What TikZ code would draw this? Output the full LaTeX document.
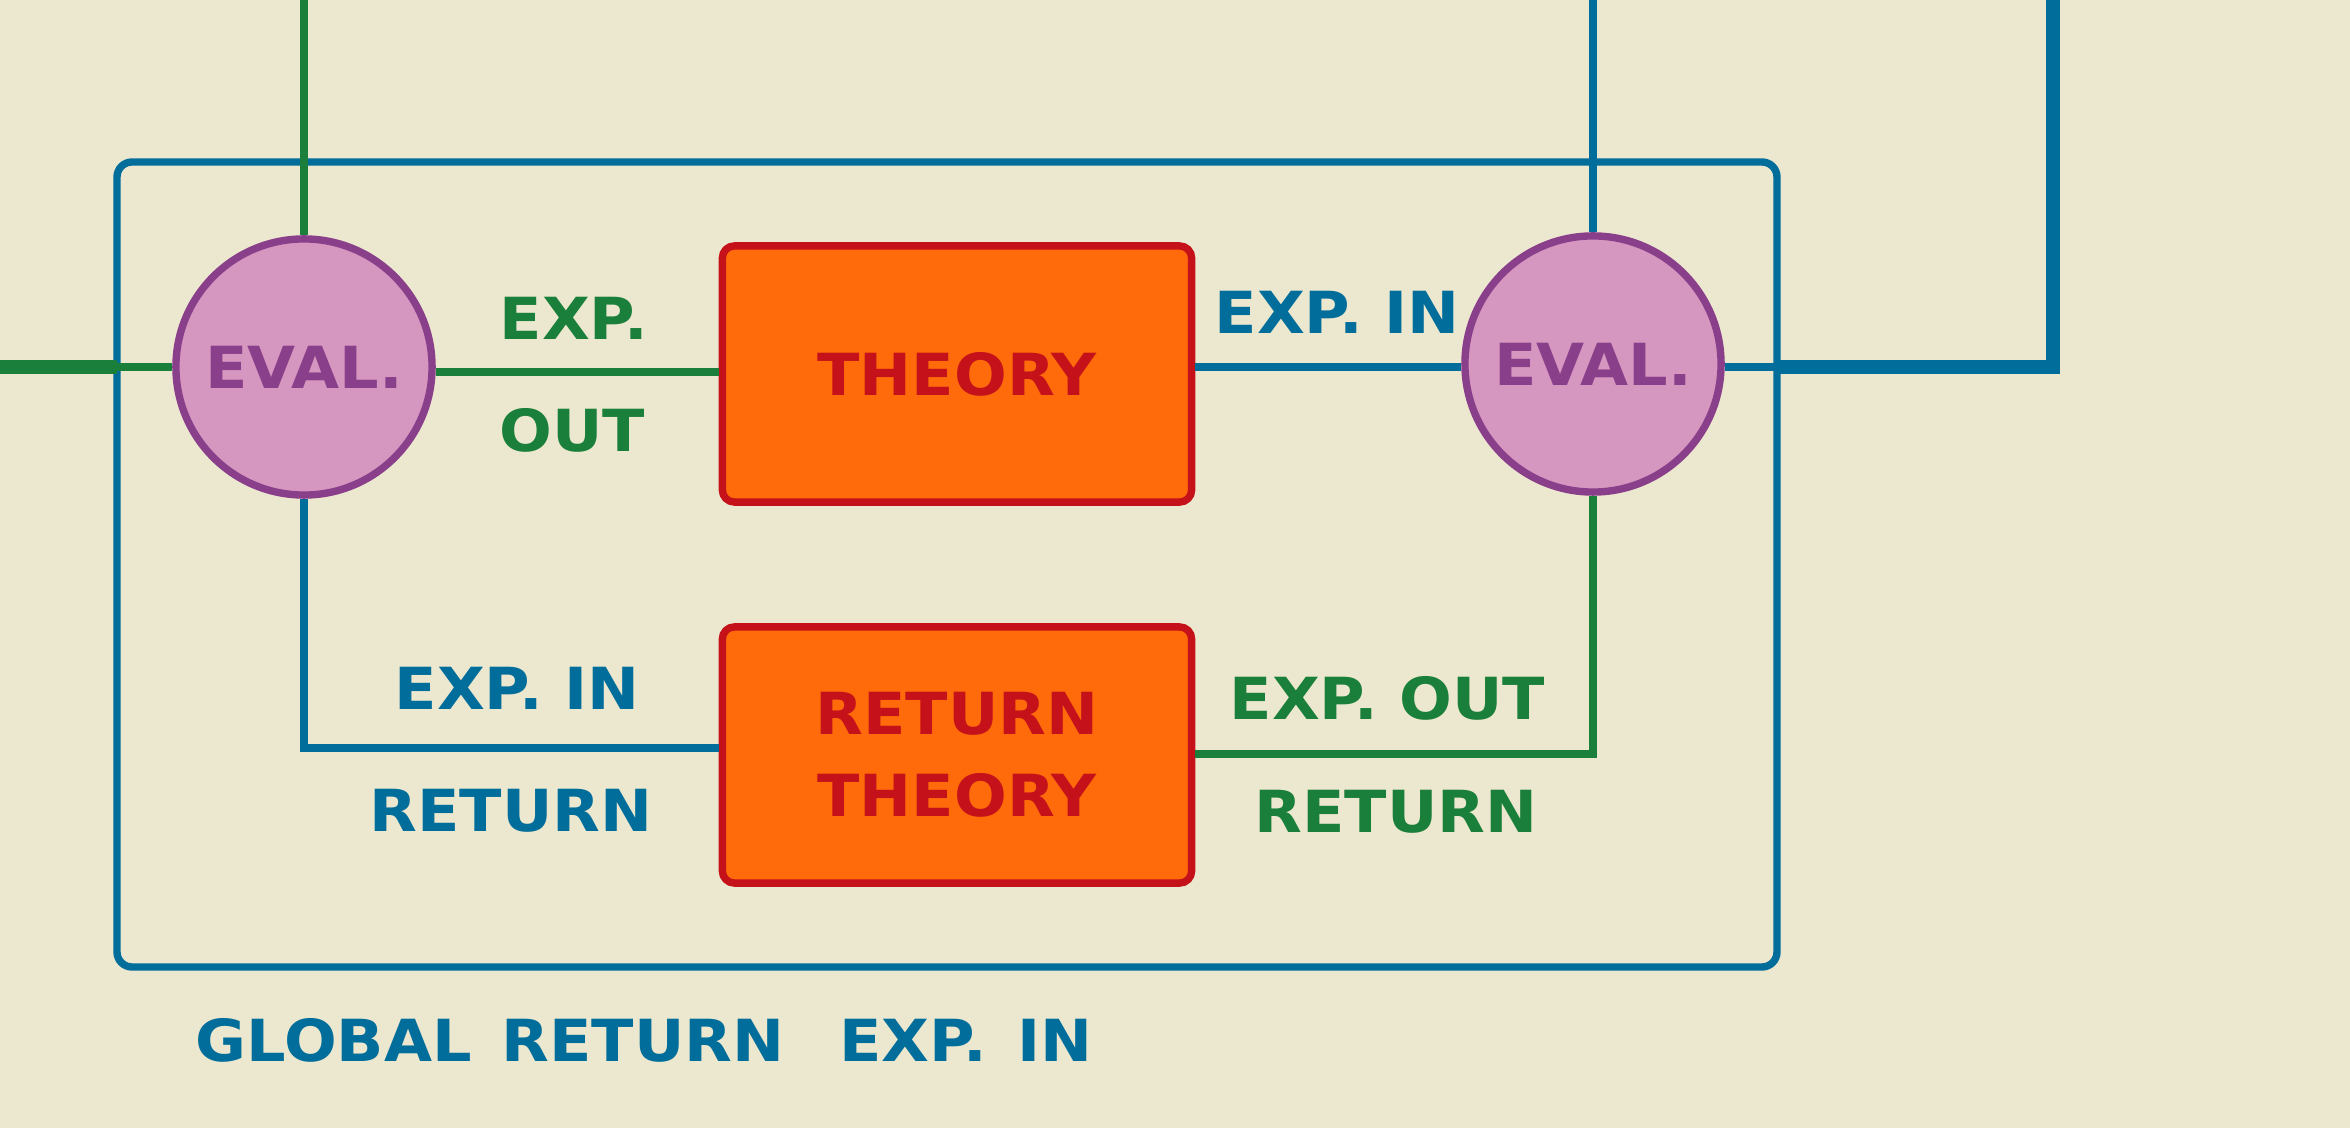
\documentclass[tikz,border=0pt]{standalone}
\usepackage{fontspec}
\newfontfamily\wide[FakeStretch=1.07]{DejaVu Sans}
\definecolor{bgc}{HTML}{ECE8CF}
\definecolor{bl}{HTML}{006D9B}
\definecolor{gr}{HTML}{1A7F3A}
\definecolor{pu}{HTML}{8A3F8A}
\definecolor{pk}{HTML}{D596C0}
\definecolor{og}{HTML}{FF6A0B}
\definecolor{rd}{HTML}{C5111A}
\tikzset{
  lab/.style={font=\wide\bfseries\fontsize{16.5}{23.3}\selectfont, inner sep=0pt},
  evalc/.style={circle, draw=pu, fill=pk, line width=2.1pt, minimum size=2.56cm, inner sep=0pt, text=pu, lab},
  theo/.style={rectangle, rounded corners=0.12cm, draw=rd, fill=og, line width=2.1pt, minimum width=4.69cm, minimum height=2.56cm, text=rd, align=center, lab},
  bthin/.style={draw=bl, line width=2.1pt},
  bthick/.style={draw=bl, line width=3.8pt},
  gthin/.style={draw=gr, line width=2.1pt},
  gthick/.style={draw=gr, line width=4pt},
}
\begin{document}
\begin{tikzpicture}[x=0.01cm,y=-0.01cm]
\fill[bgc] (0,0) rectangle (2350,1128);
\useasboundingbox (0,0) rectangle (2350,1128);
% outer frame
\draw[bthin, rounded corners=0.15cm] (117,162) rectangle (1777,967);
% nodes
\node[evalc] (e1) at (304,367) {EVAL.};
\node[evalc] (e2) at (1593,364) {EVAL.};
\node[theo] (th) at (957,374) {THEORY};
\node[theo] (rt) at (957,755) {RETURN\\THEORY};
% coordinates
\coordinate (gl) at (0,367);
\coordinate (gf) at (117,367);
\coordinate (gt) at (304,0);
\coordinate (bt) at (1593,0);
\coordinate (b1) at (1777,367);
\coordinate (b2) at (2053,367);
\coordinate (b3) at (2053,0);
\coordinate (c1) at (304,748);
\coordinate (c2) at (1593,754);
% connectors
\draw[gthick] (gl) -- (gf);
\draw[gthin] (gf) -- (e1.west);
\draw[gthin] (gt) -- (e1.north);
\draw[gthin] (e1.east |- 0,372) -- (th.west |- 0,372);
\draw[bthin] (th.east |- 0,367) -- (e2.west |- 0,367);
\draw[bthin] (bt) -- (e2.north);
\draw[bthin] (e2.east |- b1) -- (b1);
\draw[bthick, line join=miter] (b1) -- (b2) -- (b3);
\draw[bthin] (e1.south) -- (c1) -- (c1 -| rt.west);
\draw[gthin] (e2.south) -- (c2) -- (c2 -| rt.east);
% labels
\node[lab, text=gr, anchor=west] (l1) at (499,318) {EXP.};
\node[lab, text=gr, anchor=west] (l2) at (499,430) {OUT};
\node[lab, text=bl, anchor=west] (l3) at (1214,312) {EXP. IN};
\node[lab, text=bl, anchor=west] (l4) at (394,688) {EXP. IN};
\node[lab, text=bl, anchor=west] (l5) at (369,811) {RETURN};
\node[lab, text=gr, anchor=west] (l6) at (1229,698) {EXP. OUT};
\node[lab, text=gr, anchor=west] (l7) at (1254,812) {RETURN};
\node[lab, text=bl, anchor=west] (l8) at (195,1040) {GLOBAL\hspace{0.3cm}RETURN\hspace{0.55cm}EXP.\hspace{0.3cm}IN};
\end{tikzpicture}
\end{document}
